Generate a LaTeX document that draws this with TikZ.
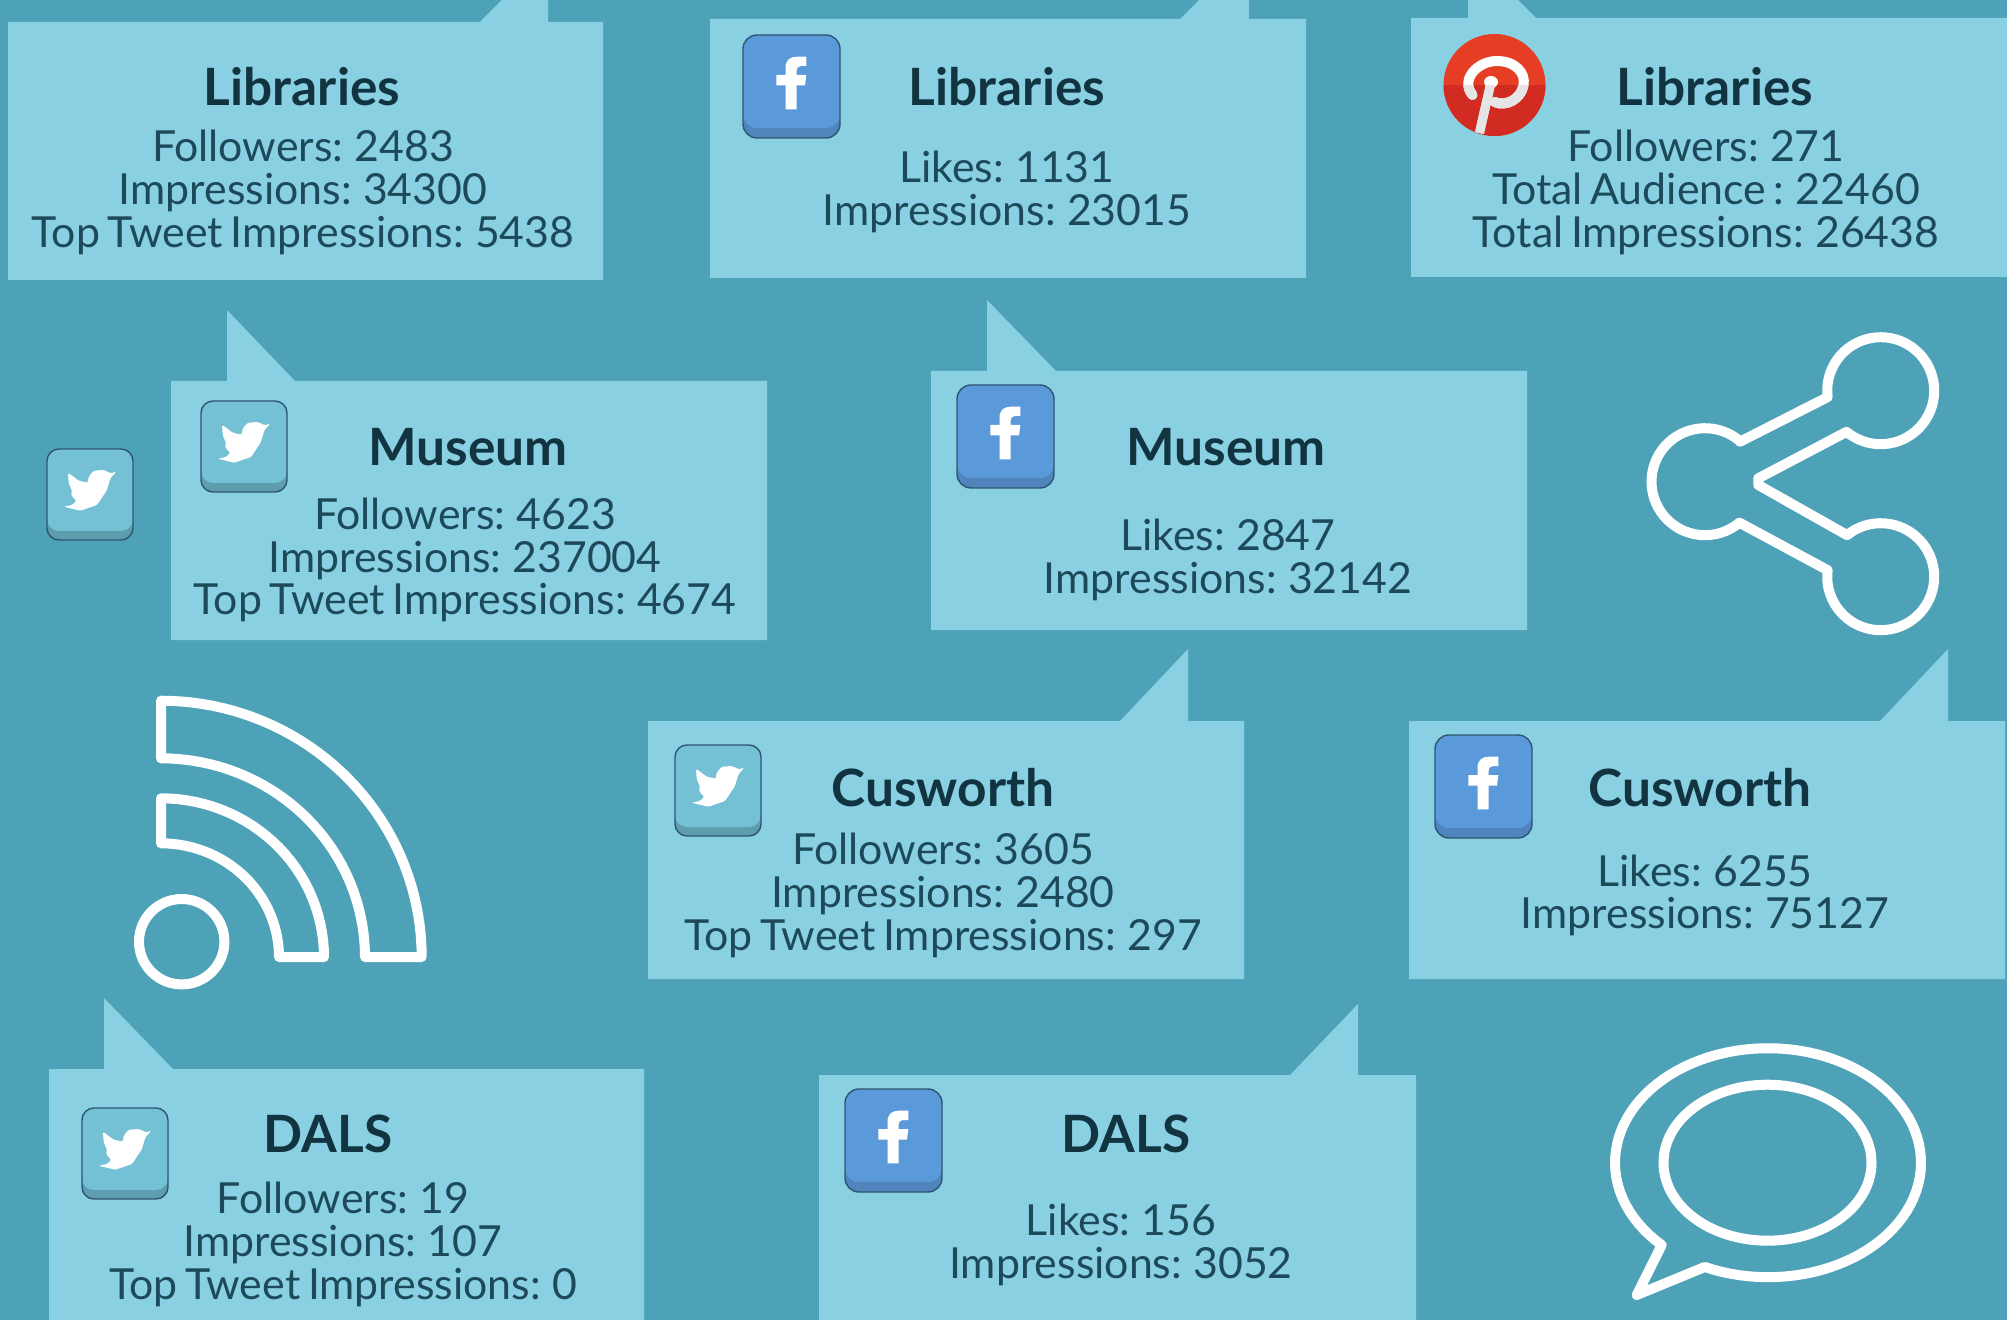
\documentclass[tikz,border=0pt]{standalone}
\usepackage{fontspec}
\setmainfont[WordSpace=0.7]{Lato}
\definecolor{bgc}{HTML}{4EA2B8}
\definecolor{boxc}{HTML}{89D0E2}
\definecolor{txtc}{HTML}{1D4A5B}
\definecolor{ttlc}{HTML}{123441}
\definecolor{twc}{HTML}{74C1D5}
\definecolor{twd}{HTML}{5E9DB0}
\definecolor{fbc}{HTML}{5A9ADB}
\definecolor{fbd}{HTML}{4F85BC}
\definecolor{edgec}{HTML}{2F5570}
\definecolor{pinc}{HTML}{E53E25}
\definecolor{pind}{HTML}{D22B22}
\tikzset{
  x=0.5pt,y=-0.5pt,
  bubble/.style={fill=boxc},
  ttl/.style={anchor=base,inner sep=0pt,text=ttlc,font=\fontsize{25.7}{28}\selectfont\bfseries},
  lin/.style={anchor=base,inner sep=0pt,text=txtc,font=\fontsize{21.4}{23}\selectfont},
  glyph/.style={draw=white,line width=5pt,line join=round,line cap=round},
  pics/twbtn/.style={code={
    \fill[twd,rounded corners=6pt] (0,0) rectangle (86,91);
    \fill[twc,rounded corners=6pt] (0,0) rectangle (86,82);
    \draw[edgec,line width=0.7pt,rounded corners=6pt] (0,0) rectangle (86,91);
    \fill[white,rounded corners=0.7pt] (16.7,57.7)--(33.3,61.7)--(50,56)--(60,41)--(63.3,29.3)--(69.3,22.7)--(64,24.3)--(56.7,21)--(46.7,21.7)--(41.7,27.7)--(40.7,33.7)--(31.7,31.7)--(21,23.7)--(21.7,34.3)--(25,41.7)--(24,46)--(29.3,52)--(25,56)--cycle;
  }},
  pics/fbbtn/.style={code={
    \fill[fbd,rounded corners=7pt] (0,0) rectangle (97,103);
    \fill[fbc,rounded corners=7pt] (0,0) rectangle (97,93);
    \draw[edgec,line width=0.7pt,rounded corners=7pt] (0,0) rectangle (97,103);
    \fill[white] (42.5,74.3)--(42.5,50.5)--(33.3,50.5)--(33.3,40)--(42.5,40)--(42.5,33) .. controls (42.5,25) and (47,21.7) .. (54,21.7)--(63.3,21.7)--(63.3,31)--(58,31) .. controls (55,31) and (53.5,33) .. (53.5,36)--(53.5,40)--(63.3,40)--(62,50.5)--(53.5,50.5)--(53.5,74.3)--cycle;
  }},
}
\begin{document}
\begin{tikzpicture}
\useasboundingbox (0,0) rectangle (2007,1320);
\clip (0,0) rectangle (2007,1320);
\fill[bgc] (0,0) rectangle (2007,1320);

% bubbles
\fill[bubble] (8,22)--(480,22)--(548,-46)--(548,22)--(603,22)--(603,280)--(8,280)--cycle;
\fill[bubble] (710,19)--(1180,19)--(1249,-50)--(1249,19)--(1306,19)--(1306,278)--(710,278)--cycle;
\fill[bubble] (1411,18)--(1468,18)--(1468,-50)--(1536,18)--(2007,18)--(2007,277)--(1411,277)--cycle;
\fill[bubble] (171,381)--(227,381)--(227,310)--(295,381)--(767,381)--(767,640)--(171,640)--cycle;
\fill[bubble] (931,371)--(987,371)--(987,300)--(1056,371)--(1527,371)--(1527,630)--(931,630)--cycle;
\fill[bubble] (648,721)--(1120,721)--(1188,649)--(1188,721)--(1244,721)--(1244,979)--(648,979)--cycle;
\fill[bubble] (1409,721)--(1880,721)--(1948,649)--(1948,721)--(2005,721)--(2005,979)--(1409,979)--cycle;
\fill[bubble] (49,1069)--(104,1069)--(104,998)--(173,1069)--(644,1069)--(644,1340)--(49,1340)--cycle;
\fill[bubble] (819,1075)--(1290,1075)--(1358,1004)--(1358,1075)--(1416,1075)--(1416,1340)--(819,1340)--cycle;

% buttons
\pic (tw0) at (47,449) {twbtn};
\pic (tw1) at (201,401) {twbtn};
\pic (tw2) at (675,745) {twbtn};
\pic (tw3) at (82,1108) {twbtn};
\pic (fb1) at (743,35) {fbbtn};
\pic (fb2) at (957,385) {fbbtn};
\pic (fb3) at (1435,735) {fbbtn};
\pic (fb4) at (845,1089) {fbbtn};

% pinterest
\fill[pinc] (1494.5,85) ellipse [x radius=51,y radius=51];
\begin{scope}
  \clip (1430,86) rectangle (1560,140);
  \fill[pind] (1494.5,85) ellipse [x radius=51,y radius=51];
\end{scope}
\begin{scope}[shift={(1494.5,85)},xscale=1.16]
  \draw[white,line width=5pt,line cap=round] (-19,10) .. controls (-30,-6) and (-14,-24) .. (2,-24) .. controls (18,-24) and (27,-12) .. (25,0) .. controls (23,14) and (10,22) .. (0,17);
  \draw[white,line width=4.5pt] (-13,48) -- (-3,-3);
  \fill[white] (-3,-3) circle [radius=3pt];
  \begin{scope}
    \clip (-50,1) rectangle (50,60);
    \draw[gray!20,line width=5pt,line cap=round] (-19,10) .. controls (-30,-6) and (-14,-24) .. (2,-24) .. controls (18,-24) and (27,-12) .. (25,0) .. controls (23,14) and (10,22) .. (0,17);
    \draw[gray!20,line width=4.5pt] (-13,48) -- (-3,-3);
  \end{scope}
\end{scope}

% share glyph
\draw[glyph] (1827.3,397.3) -- (1740,441.7)
  -- plot[domain=-49:-310,samples=50] ({1705+53.5*cos(\x)},{481.7+53.5*sin(\x)})
  -- (1827.3,570)
  -- plot[domain=187:-129,samples=60] ({1880.7+53.5*cos(\x)},{576.7+53.5*sin(\x)})
  -- (1758.3,485) -- (1758.3,478.3)
  -- plot[domain=129.7:-187,samples=60] ({1880.7+53.5*cos(\x)},{390.7+53.5*sin(\x)})
  -- cycle;

% rss glyph
\draw[glyph] (181.7,941.7) circle [radius=85.4pt/4];
\draw[glyph] plot[domain=-90:0,samples=40] ({161+260.7*cos(\x)},{957+256.3*sin(\x)})
  -- plot[domain=0:-90,samples=40] ({161+204*cos(\x)},{957+198.7*sin(\x)}) -- cycle;
\draw[glyph] plot[domain=-90:0,samples=30] ({161+163*cos(\x)},{957+158.7*sin(\x)})
  -- plot[domain=0:-90,samples=30] ({161+118*cos(\x)},{957+113.7*sin(\x)}) -- cycle;

% comment glyph
\draw[glyph] plot[domain=114.4:-226,samples=100] ({1768+153*cos(\x)},{1162.7+114.5*sin(\x)})
  -- (1636.7,1295) -- cycle;
\draw[glyph] (1767.5,1162.7) ellipse [x radius=52pt,y radius=39pt];

% texts
\begin{scope}[shift={(0,1.3)}]
\node[ttl] (t1) at (302,104) {Libraries};
\node[lin] (a1) at (303,160) {Followers: 2483};
\node[lin] (a2) at (303,203) {Impressions: 34300};
\node[lin] (a3) at (303,246) {Top Tweet Impressions: 5438};

\node[ttl] (t2) at (1007,104) {Libraries};
\node[lin] (b1) at (1007,181.5) {Likes: 1131};
\node[lin] (b2) at (1007,224) {Impressions: 23015};

\node[ttl] (t3) at (1715,104) {Libraries};
\node[lin] (c1) at (1706,160) {Followers: 271};
\node[lin] (c2) at (1706,203) {Total Audience : 22460};
\node[lin] (c3) at (1706,246) {Total Impressions: 26438};

\node[ttl] (t4) at (468,464) {Museum};
\node[lin] (d1) at (465,528.5) {Followers: 4623};
\node[lin] (d2) at (465,571) {Impressions: 237004};
\node[lin] (d3) at (465,613.5) {Top Tweet Impressions: 4674};

\node[ttl] (t5) at (1226,464) {Museum};
\node[lin] (e1) at (1228,549) {Likes: 2847};
\node[lin] (e2) at (1228,592.5) {Impressions: 32142};

\node[ttl] (t6) at (943,805) {Cusworth};
\node[lin] (f1) at (943,863) {Followers: 3605};
\node[lin] (f2) at (943,906) {Impressions: 2480};
\node[lin] (f3) at (943,949) {Top Tweet Impressions: 297};

\node[ttl] (t7) at (1700,805) {Cusworth};
\node[lin] (g1) at (1705,885) {Likes: 6255};
\node[lin] (g2) at (1705,927.5) {Impressions: 75127};

\node[ttl] (t8) at (328,1151) {DALS};
\node[lin] (h1) at (343,1212.5) {Followers: 19};
\node[lin] (h2) at (343,1255.5) {Impressions: 107};
\node[lin] (h3) at (343,1298.5) {Top Tweet Impressions: 0};

\node[ttl] (t9) at (1126,1151) {DALS};
\node[lin] (i1) at (1121,1234) {Likes: 156};
\node[lin] (i2) at (1121,1277) {Impressions: 3052};
\end{scope}
\end{tikzpicture}
\end{document}
